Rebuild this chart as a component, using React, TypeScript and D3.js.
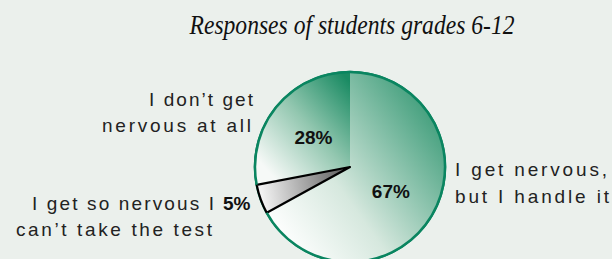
import React from "react"
import * as d3 from "d3"

// responses of students, grades 6-12 (percent)
const categories = ["I get nervous, but I handle it", "I get so nervous I can't take the test", "I don't get nervous at all"]
const values = [67, 5, 28]
const pctLabels = ["67%", "5%", "28%"]

const W = 612
const H = 259
const cx = 350
const cy = 167
const radius = 95

const sansFont = "'Liberation Sans', Arial, sans-serif"

export default function App() {
  const pie = d3
    .pie<number>()
    .value(d => d)
    .sort(null)
    .startAngle(0)
    .endAngle(2 * Math.PI)
  const arcs = pie(values)
  const arcGen = d3.arc<d3.PieArcDatum<number>>().innerRadius(0).outerRadius(radius)

  const fills = ["url(#gBig)", "url(#gGray)", "url(#gTop)"]
  // draw the outlined small slice last so its black edge stays on top
  const order = [0, 2, 1]

  // gradient coords are relative to the pie centre (paths live in the translated group)
  return (
    <svg width={W} height={H} style={{ position: "absolute", left: 0, top: 0, background: "#ebf0ec" }}>
      <defs>
        <linearGradient id="gBig" gradientUnits="userSpaceOnUse" x1={-65} y1={80} x2={95} y2={-35}>
          <stop offset="0" stopColor="#ffffff" />
          <stop offset="0.4" stopColor="#d6e8de" />
          <stop offset="1" stopColor="#45a07e" />
        </linearGradient>
        <linearGradient id="gTop" gradientUnits="userSpaceOnUse" x1={-90} y1={-5} x2={0} y2={-85}>
          <stop offset="0" stopColor="#f6f9f7" />
          <stop offset="0.5" stopColor="#93c7b0" />
          <stop offset="1" stopColor="#1a8b63" />
        </linearGradient>
        <linearGradient id="gGray" gradientUnits="userSpaceOnUse" x1={-90} y1={15} x2={0} y2={0}>
          <stop offset="0" stopColor="#f2f2f2" />
          <stop offset="1" stopColor="#555" />
        </linearGradient>
      </defs>

      <text
        x={352}
        y={34}
        textAnchor="middle"
        fontFamily="'Liberation Serif', 'Times New Roman', serif"
        fontStyle="italic"
        fontSize={27}
        textLength={325}
        lengthAdjust="spacingAndGlyphs"
        fill="#111"
      >
        Responses of students grades 6-12
      </text>

      <g transform={`translate(${cx},${cy})`}>
        <circle r={radius} fill="none" stroke="#0a8560" strokeWidth={2.5} />
        {order.map(i => (
          <path
            key={categories[i]}
            d={arcGen(arcs[i]) ?? ""}
            fill={fills[i]}
            stroke={i === 1 ? "#000" : "none"}
            strokeWidth={2.2}
            strokeLinejoin="round"
          />
        ))}
        <path
          d={d3.arc()({ innerRadius: radius, outerRadius: radius, startAngle: arcs[1].endAngle, endAngle: arcs[1].startAngle + 2 * Math.PI }) ?? ""}
          fill="none"
          stroke="#0a8560"
          strokeWidth={2.5}
        />
        {[0, 2].map(i => {
          const [x, y] = arcGen.centroid(arcs[i])
          return (
            <text key={pctLabels[i]} x={x} y={y + 7} textAnchor="middle" fontFamily={sansFont} fontWeight="bold" fontSize={19} fill="#111">
              {pctLabels[i]}
            </text>
          )
        })}
      </g>

      <g fontFamily={sansFont} fontSize={19} fill="#222" lengthAdjust="spacing">
        <text x={253} y={106} textAnchor="end" textLength={104}>I don&#8217;t get</text>
        <text x={251} y={132} textAnchor="end" textLength={149}>nervous at all</text>

        <text x={214} y={210} textAnchor="end" textLength={182}>I get so nervous I</text>
        <text x={212} y={236} textAnchor="end" textLength={196}>can&#8217;t take the test</text>

        <text x={455} y={176} textLength={152}>I get nervous,</text>
        <text x={455} y={203} textLength={154}>but I handle it</text>
      </g>
      <text x={223} y={210} fontFamily={sansFont} fontWeight="bold" fontSize={19} fill="#111">
        {pctLabels[1]}
      </text>
    </svg>
  )
}
